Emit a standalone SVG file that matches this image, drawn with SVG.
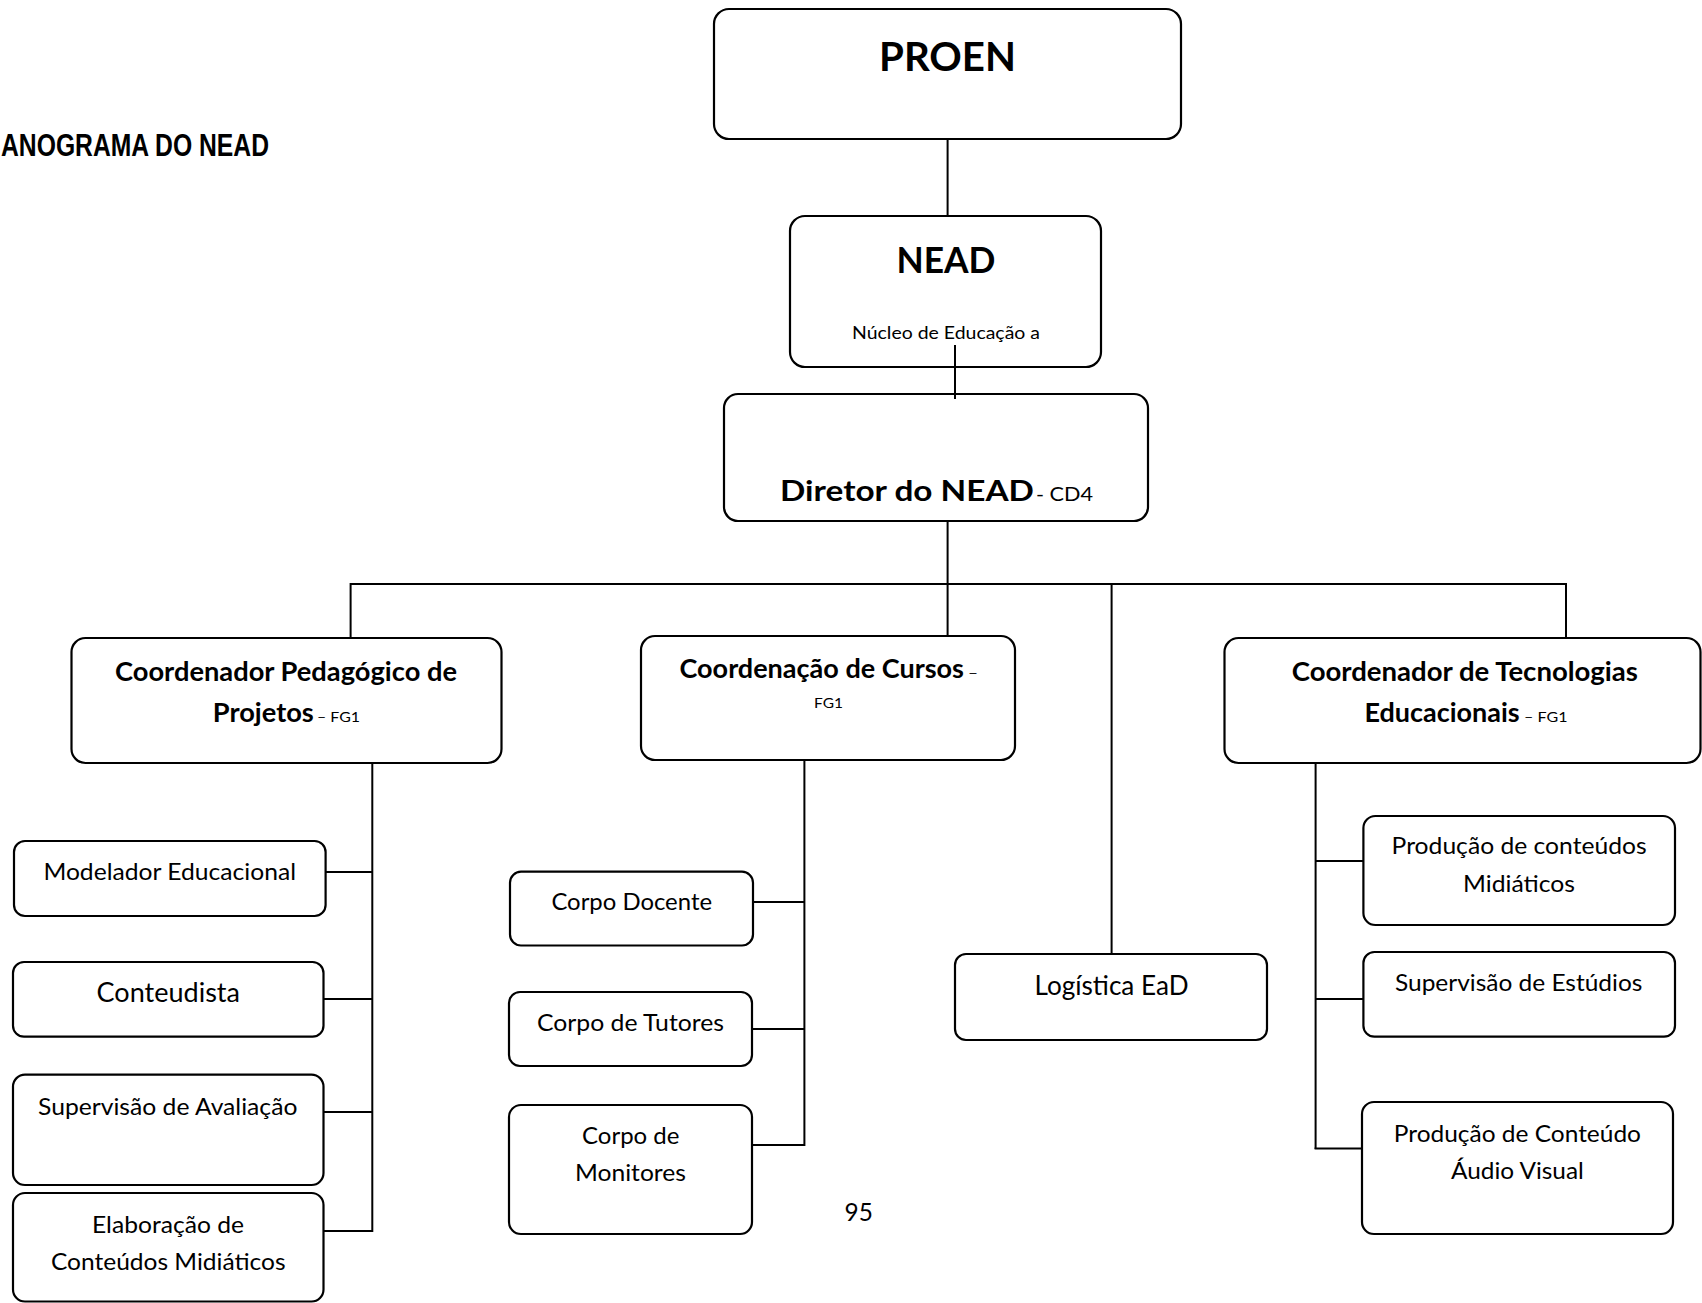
<svg xmlns="http://www.w3.org/2000/svg" width="1702" height="1303" viewBox="0 0 1702 1303">
<style>
.box{fill:#fff;stroke:#000;stroke-width:2.2}
.ln{stroke:#000;stroke-width:2;fill:none}
.t{font-family:Lato,"Open Sans","Liberation Sans",sans-serif;fill:#000}
.b{font-weight:bold}
.r{font-size:24px}
.bb{font-size:26px;font-weight:bold}
.s{font-size:13px}
</style>
<rect width="1702" height="1303" fill="#fff"/>
<text x="1" y="156" font-family="'Liberation Sans',Arial,sans-serif" font-weight="bold" font-size="31" textLength="268" lengthAdjust="spacingAndGlyphs">ANOGRAMA DO NEAD</text>

<g id="proen">
<rect class="box" x="714" y="9" width="467" height="130" rx="15"/>
<text class="t b" x="879" y="70.5" font-size="40" textLength="137" lengthAdjust="spacingAndGlyphs">PROEN</text>
</g>
<g id="nead">
<rect class="box" x="790" y="216" width="311" height="151" rx="15"/>
<text class="t b" x="896.5" y="273" font-size="36" textLength="99" lengthAdjust="spacingAndGlyphs">NEAD</text>
<text class="t" x="852" y="338.5" font-size="17.7" textLength="188" lengthAdjust="spacingAndGlyphs">Núcleo de Educação a</text>
</g>
<g id="diretor">
<rect class="box" x="724" y="394" width="424" height="127" rx="14"/>
<text class="t b" x="780" y="501" font-size="29" textLength="254" lengthAdjust="spacingAndGlyphs">Diretor do NEAD</text>
<text class="t" x="1036" y="501" font-size="18.6" textLength="57" lengthAdjust="spacingAndGlyphs">- CD4</text>
</g>
<g id="coord-pedagogico">
<rect class="box" x="71.5" y="638" width="430" height="125" rx="14"/>
<text class="t bb" x="115" y="680.5" textLength="342" lengthAdjust="spacingAndGlyphs">Coordenador Pedagógico de</text>
<text class="t bb" x="212.8" y="722" textLength="101" lengthAdjust="spacingAndGlyphs">Projetos</text>
<text class="t s" x="317" y="722" textLength="43" lengthAdjust="spacingAndGlyphs">– FG1</text>
</g>
<g id="coord-cursos">
<rect class="box" x="641" y="636" width="374" height="124" rx="14"/>
<text class="t bb" x="679.5" y="677.5" textLength="284.5" lengthAdjust="spacingAndGlyphs">Coordenação de Cursos</text>
<text class="t s" x="968" y="677.5" textLength="10" lengthAdjust="spacingAndGlyphs">–</text>
<text class="t s" x="814" y="707.7" textLength="29" lengthAdjust="spacingAndGlyphs">FG1</text>
</g>
<g id="coord-tecnologias">
<rect class="box" x="1224.5" y="638" width="476" height="125" rx="14"/>
<text class="t bb" x="1291.7" y="680.5" textLength="346.3" lengthAdjust="spacingAndGlyphs">Coordenador de Tecnologias</text>
<text class="t bb" x="1364.5" y="722" textLength="155.2" lengthAdjust="spacingAndGlyphs">Educacionais</text>
<text class="t s" x="1524" y="722" textLength="43.5" lengthAdjust="spacingAndGlyphs">– FG1</text>
</g>
<g id="modelador">
<rect class="box" x="14" y="841" width="311.6" height="75" rx="11"/>
<text class="t r" x="43.4" y="880" textLength="252.6" lengthAdjust="spacingAndGlyphs">Modelador Educacional</text>
</g>
<g id="conteudista">
<rect class="box" x="13" y="962" width="310.5" height="74.7" rx="11"/>
<text class="t" x="96.6" y="1002" font-size="26.3" textLength="143.4" lengthAdjust="spacingAndGlyphs">Conteudista</text>
</g>
<g id="supervisao-avaliacao">
<rect class="box" x="13" y="1074.6" width="310.5" height="110.4" rx="12"/>
<text class="t r" x="38" y="1114.8" textLength="259.4" lengthAdjust="spacingAndGlyphs">Supervisão de Avaliação</text>
</g>
<g id="elaboracao">
<rect class="box" x="13" y="1193" width="310.5" height="108.5" rx="12"/>
<text class="t r" x="92" y="1233" textLength="152" lengthAdjust="spacingAndGlyphs">Elaboração de</text>
<text class="t r" x="51" y="1270" textLength="234.5" lengthAdjust="spacingAndGlyphs">Conteúdos Midiáticos</text>
</g>
<g id="corpo-docente">
<rect class="box" x="510" y="871.7" width="243" height="73.8" rx="11"/>
<text class="t r" x="551.4" y="909.6" textLength="160.6" lengthAdjust="spacingAndGlyphs">Corpo Docente</text>
</g>
<g id="corpo-tutores">
<rect class="box" x="509" y="992" width="243" height="74" rx="11"/>
<text class="t r" x="537" y="1031" textLength="187" lengthAdjust="spacingAndGlyphs">Corpo de Tutores</text>
</g>
<g id="corpo-monitores">
<rect class="box" x="509" y="1105" width="243" height="129" rx="12"/>
<text class="t r" x="582" y="1144" textLength="97.5" lengthAdjust="spacingAndGlyphs">Corpo de</text>
<text class="t r" x="575" y="1181" textLength="111" lengthAdjust="spacingAndGlyphs">Monitores</text>
</g>
<g id="logistica">
<rect class="box" x="955" y="954" width="312" height="86" rx="11"/>
<text class="t" x="1034.5" y="995.4" font-size="26" textLength="154" lengthAdjust="spacingAndGlyphs">Logística EaD</text>
</g>
<g id="producao-midiaticos">
<rect class="box" x="1363.4" y="816" width="311.6" height="109" rx="12"/>
<text class="t r" x="1391.6" y="854" textLength="255" lengthAdjust="spacingAndGlyphs">Produção de conteúdos</text>
<text class="t r" x="1463" y="892" textLength="112" lengthAdjust="spacingAndGlyphs">Midiáticos</text>
</g>
<g id="supervisao-estudios">
<rect class="box" x="1363.4" y="952" width="311.6" height="84.7" rx="11"/>
<text class="t r" x="1395" y="991" textLength="247.4" lengthAdjust="spacingAndGlyphs">Supervisão de Estúdios</text>
</g>
<g id="producao-audiovisual">
<rect class="box" x="1362" y="1102" width="311" height="132" rx="12"/>
<text class="t r" x="1393.8" y="1142" textLength="247.2" lengthAdjust="spacingAndGlyphs">Produção de Conteúdo</text>
<text class="t r" x="1451" y="1179" textLength="132.8" lengthAdjust="spacingAndGlyphs">Áudio Visual</text>
</g>
<text class="t" x="844.5" y="1221" font-size="25" textLength="28.3" lengthAdjust="spacingAndGlyphs">95</text>

<g id="connectors">
<line class="ln" x1="947.6" y1="139" x2="947.6" y2="216"/>
<line class="ln" x1="955" y1="345" x2="955" y2="399"/>
<line class="ln" x1="947.6" y1="521" x2="947.6" y2="636"/>
<line class="ln" x1="350.6" y1="584" x2="1566" y2="584"/>
<line class="ln" x1="350.6" y1="583" x2="350.6" y2="638"/>
<line class="ln" x1="1111.6" y1="584" x2="1111.6" y2="954"/>
<line class="ln" x1="1566" y1="583" x2="1566" y2="638"/>
<line class="ln" x1="372.3" y1="763" x2="372.3" y2="1232"/>
<line class="ln" x1="325.6" y1="872" x2="372.3" y2="872"/>
<line class="ln" x1="323.5" y1="999" x2="373" y2="999"/>
<line class="ln" x1="323.5" y1="1112" x2="373" y2="1112"/>
<line class="ln" x1="323.5" y1="1231" x2="373" y2="1231"/>
<line class="ln" x1="804.4" y1="760" x2="804.4" y2="1146"/>
<line class="ln" x1="753" y1="902" x2="804.4" y2="902"/>
<line class="ln" x1="752" y1="1029" x2="804.4" y2="1029"/>
<line class="ln" x1="752" y1="1145" x2="805" y2="1145"/>
<line class="ln" x1="1315.6" y1="763" x2="1315.6" y2="1149"/>
<line class="ln" x1="1315.6" y1="861" x2="1363.4" y2="861"/>
<line class="ln" x1="1315.6" y1="999" x2="1363.4" y2="999"/>
<line class="ln" x1="1314.6" y1="1148.5" x2="1362" y2="1148.5"/>
</g>
</svg>
